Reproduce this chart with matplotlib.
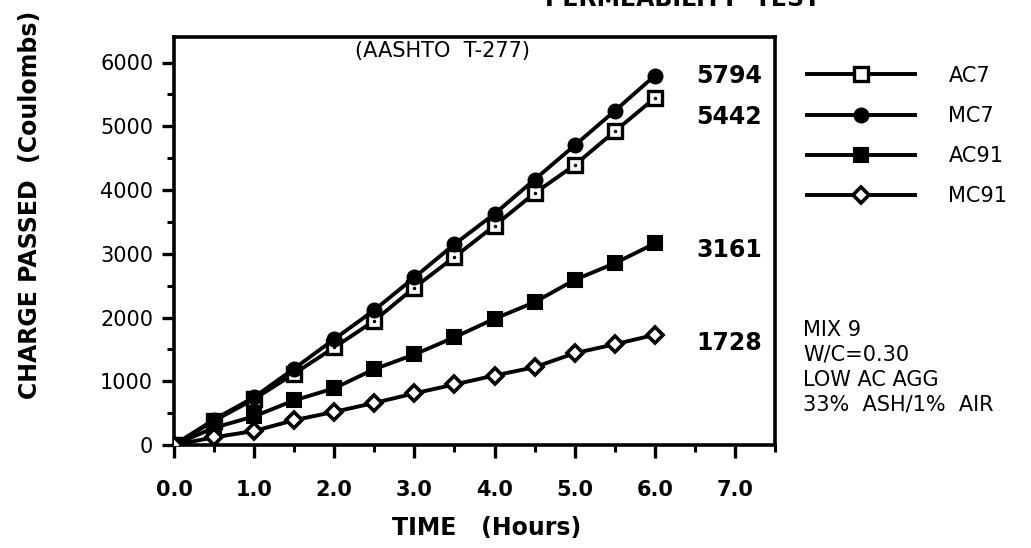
import matplotlib
matplotlib.use("Agg")
import matplotlib.pyplot as plt
from matplotlib.lines import Line2D
from matplotlib.ticker import MultipleLocator

plt.rcParams['font.family'] = ['DejaVu Sans']

hours = [0.0, 0.5, 1.0, 1.5, 2.0, 2.5, 3.0, 3.5, 4.0, 4.5, 5.0, 5.5, 6.0]
ac7 = [0, 380, 720, 1120, 1530, 1950, 2470, 2950, 3440, 3950, 4390, 4920, 5442]
mc7 = [0, 400, 750, 1200, 1660, 2117, 2629, 3150, 3626, 4163, 4700, 5240, 5794]
ac91 = [0, 270, 450, 700, 890, 1190, 1420, 1690, 1980, 2240, 2590, 2850, 3161]
mc91 = [0, 120, 220, 390, 520, 660, 810, 950, 1090, 1220, 1440, 1580, 1728]
series_names = ["AC7", "MC7", "AC91", "MC91"]
final_labels = ["5794", "5442", "3161", "1728"]
x_ticks = [0, 1, 2, 3, 4, 5, 6, 7]
y_ticks = [0, 1000, 2000, 3000, 4000, 5000, 6000]
notes = ["MIX 9", "W/C=0.30", "LOW AC AGG", "33%  ASH/1%  AIR"]

W, H = 1031, 548
fig = plt.figure(figsize=(W / 100, H / 100), dpi=100)
ax = fig.add_axes([174 / W, 1 - 445 / H, (775 - 174) / W, (445 - 37) / H])

styles = {
    "AC7": dict(marker='s', mfc='white', mec='black', ms=10, mew=2.4),
    "MC7": dict(marker='o', mfc='black', mec='black', ms=10, mew=1.5),
    "AC91": dict(marker='s', mfc='black', mec='black', ms=10, mew=1.5),
    "MC91": dict(marker='D', mfc='white', mec='black', ms=8, mew=2.6),
}
data = {"AC7": ac7, "MC7": mc7, "AC91": ac91, "MC91": mc91}
handles = []
for name in series_names:
    ax.plot(hours, data[name], color='black', lw=2.8, **styles[name], zorder=3)
    if name == "AC7":
        ax.plot(hours[1:], data[name][1:], ls='none', marker='.', ms=3, color='black', zorder=4)
    handles.append(Line2D([0], [0], color='black', lw=2.8, **styles[name]))

ax.set_xlim(0, 7.5)
ax.set_ylim(0, 6400)
ax.set_xticks(x_ticks)
ax.set_xticklabels([f"{v:.1f}" for v in x_ticks], fontsize=15, fontweight='bold')
ax.xaxis.set_minor_locator(MultipleLocator(0.5))
ax.set_yticks(y_ticks)
ax.set_yticklabels([str(v) for v in y_ticks], fontsize=15)
ax.yaxis.set_minor_locator(MultipleLocator(500))
ax.tick_params(axis='both', which='major', direction='out', length=9, width=2.4, colors='black')
ax.tick_params(axis='both', which='minor', direction='out', length=5, width=2.2)
ax.tick_params(axis='x', which='major', pad=16)
ax.tick_params(axis='y', which='major', pad=6)
for sp in ax.spines.values():
    sp.set_linewidth(2.6)

ax.set_xlabel("TIME   (Hours)", fontsize=17, fontweight='bold')
ax.xaxis.set_label_coords((487 - 174) / 601, -(528 - 445) / 408)
ax.set_ylabel("CHARGE PASSED  (Coulombs)", fontsize=17, fontweight='bold')
ax.yaxis.set_label_coords((30 - 174) / 601, (445 - 205) / 408)
ax.xaxis.label.set_va('center')
ax.yaxis.label.set_va('center')

ax.text(2.26, 6180, "(AASHTO  T-277)", fontsize=15, va='center', ha='left')

label_y = [mc7[-1], ac7[-1] - 300, ac91[-1] - 100, mc91[-1] - 130]
for txt, yv in zip(final_labels, label_y):
    ax.text(6.52, yv, txt, fontsize=17, fontweight='bold', va='center', ha='left')

fig.legend(handles, series_names, loc='upper left', bbox_to_anchor=(788 / W, 1 - 47 / H),
           frameon=False, fontsize=15, handlelength=5.2, handletextpad=1.6,
           labelspacing=0.97)

fig.text(803 / W, 1 - 320 / H, "\n".join(notes), fontsize=15, va='top', ha='left',
         linespacing=1.3)

fig.text(820 / W, 1 - 6 / H, "PERMEABILITY  TEST", fontsize=17, fontweight='bold',
         ha='right', va='baseline')

fig.savefig("out.png", dpi=100)
